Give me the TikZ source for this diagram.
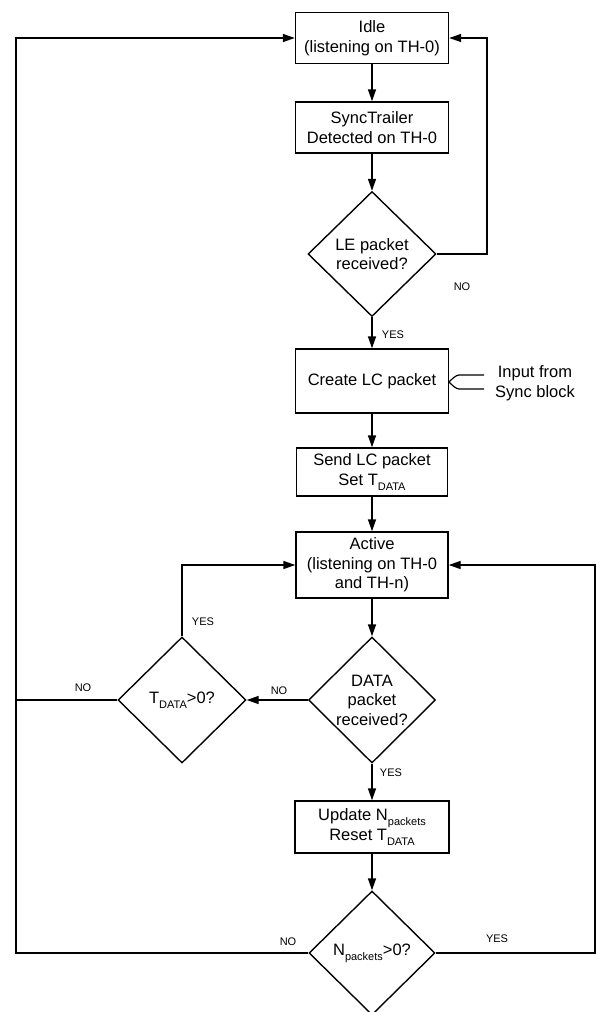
\documentclass[tikz,border=0pt]{standalone}
\usepackage{fontspec}
\setmainfont{Liberation Sans}
\usetikzlibrary{shapes.geometric,arrows.meta}
\newcommand{\mysub}[1]{\raisebox{-5pt}{\fontsize{11}{12}\selectfont #1}}
\begin{document}
\begin{tikzpicture}[x=1pt,y=-1pt,
  line width=1.4pt,
  font=\fontsize{16.5}{19.5}\selectfont,
  box/.style={draw,rectangle,inner sep=0pt,align=center,minimum width=153pt},
  dec/.style={draw,diamond,inner sep=0pt,align=center,minimum width=128pt,minimum height=125pt},
  arr/.style={-{Triangle[length=12pt,width=8pt]}},
  lab/.style={font=\fontsize{11}{13}\selectfont,inner sep=0pt}]
\useasboundingbox (0,0) rectangle (596,1012);

\node[box,minimum height=51pt] (idle) at (372,38) {Idle\\(listening on TH-0)};
\node[box,minimum height=51pt] (sync) at (372,127.5) {SyncTrailer\\Detected on TH-0};
\node[dec] (le) at (372,254) {LE packet\\received?};
\node[box,minimum height=64pt] (create) at (372,381) {Create LC packet};
\node[box,minimum height=48pt,minimum width=151pt] (send) at (372,472) {Send LC packet\\Set T\mysub{DATA}};
\node[box,minimum height=66pt,minimum width=152pt] (active) at (372,565) {Active\\(listening on TH-0\\and TH-n)};
\node[dec,minimum height=126pt,minimum width=127pt] (data) at (372,700) {DATA\\packet\\received?};
\node[dec,minimum height=126pt] (tdata) at (182,700) {T\mysub{DATA}>0?};
\node[box,minimum height=52pt,minimum width=154pt] (update) at (372,827) {Update N\mysub{packets}\\Reset T\mysub{DATA}};
\node[dec,minimum height=124pt,minimum width=126pt] (npk) at (372,953) {N\mysub{packets}>0?};

\node[align=center,inner sep=0pt] (inp) at (535,383) {Input from\\Sync block};

\coordinate (rloop) at (487,254);
\coordinate (lt) at (16,38);
\coordinate (lb) at (16,953);
\coordinate (lm) at (16,700);
\coordinate (ty) at (182,565);
\coordinate (rb) at (595,953);
\coordinate (rt) at (595,565);
\coordinate (i1) at (484,375);
\coordinate (i2) at (484,389);
\coordinate (itip) at (449,382);

\draw[arr] (idle) -- (sync);
\draw[arr] (sync) -- (le);
\draw[arr] (le.east) -- (rloop) |- (idle.east);
\draw[arr] (le) -- (create);
\draw[arr] (create) -- (send);
\draw[arr] (send) -- (active);
\draw[arr] (active) -- (data);
\draw[arr] (data.west) -- (tdata.east);
\draw[arr] (tdata.north) -- (ty) -- (active.west);
\draw (tdata.west) -- (lm);
\draw[arr] (data) -- (update);
\draw[arr] (update) -- (npk);
\draw[arr] (npk.west) -- (lb) -- (lt) -- (idle.west);
\draw[arr] (npk.east) -- (rb) -- (rt) -- (active.east);

\draw[line width=1.2pt] (i1) -- (459,375) .. controls (456,375) and (452,379) .. (itip);
\draw[line width=1.2pt] (i2) -- (459,389) .. controls (456,389) and (452,385) .. (itip);

\node[lab] at (462,287) {NO};
\node[lab] at (393,335) {YES};
\node[lab] at (203,622) {YES};
\node[lab] at (279,691) {NO};
\node[lab] at (83,688) {NO};
\node[lab] at (391,773) {YES};
\node[lab] at (288,942) {NO};
\node[lab] at (497,939) {YES};
\end{tikzpicture}
\end{document}
